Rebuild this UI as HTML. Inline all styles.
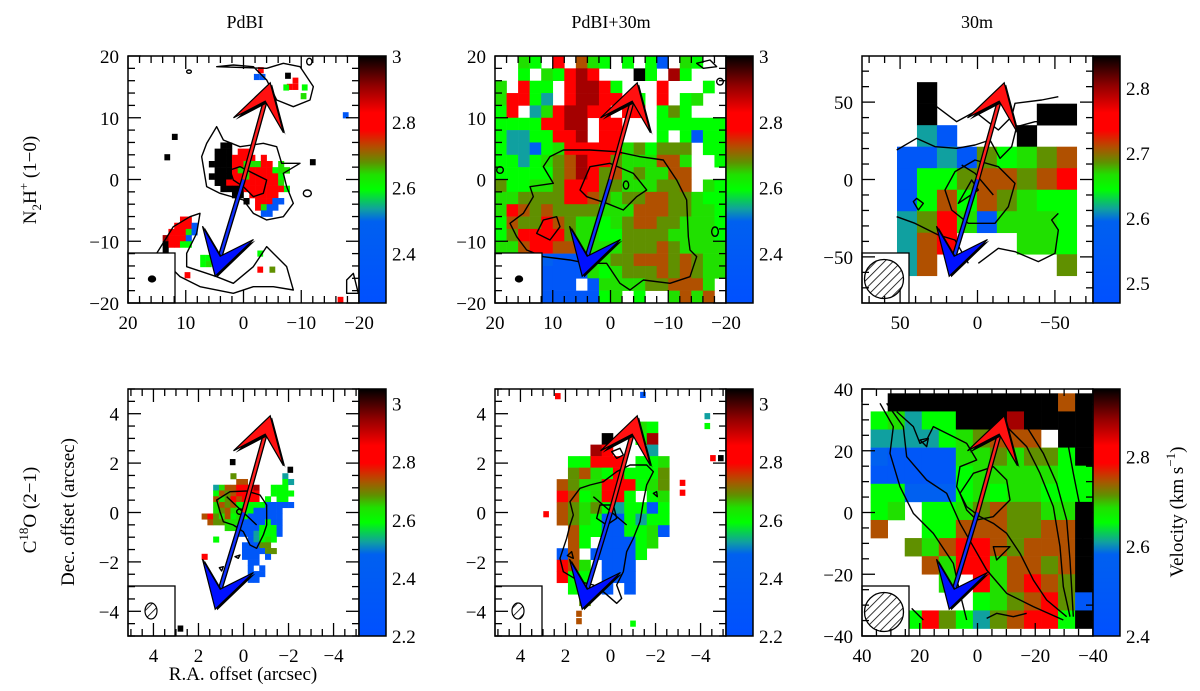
<!DOCTYPE html>
<html><head><meta charset="utf-8"><style>
html,body{margin:0;padding:0;background:#fff;}
svg{display:block;font-family:"Liberation Serif",serif;}
</style></head><body>
<svg id="fig" width="1200" height="691" viewBox="0 0 1200 691" xmlns="http://www.w3.org/2000/svg">
<defs>
<linearGradient id="cmap" x1="0" y1="1" x2="0" y2="0">
<stop offset="0" stop-color="#0050ff"/><stop offset="0.33" stop-color="#0060f0"/><stop offset="0.38" stop-color="#10a0a0"/><stop offset="0.46" stop-color="#00ff00"/><stop offset="0.52" stop-color="#20e000"/><stop offset="0.57" stop-color="#609000"/><stop offset="0.63" stop-color="#b05000"/><stop offset="0.70" stop-color="#ff0000"/><stop offset="0.77" stop-color="#ff0000"/><stop offset="0.88" stop-color="#900000"/><stop offset="1" stop-color="#000000"/>
</linearGradient>
<pattern id="hatch" width="6" height="6" patternUnits="userSpaceOnUse" patternTransform="rotate(45)"><rect width="6" height="6" fill="#fff"/><line x1="0" y1="0" x2="0" y2="6" stroke="#000" stroke-width="1.6"/></pattern>
</defs>
<text x="245" y="28" font-size="18" text-anchor="middle">PdBI</text>
<text x="611" y="28" font-size="18" text-anchor="middle">PdBI+30m</text>
<text x="977" y="28" font-size="18" text-anchor="middle">30m</text>
<text transform="translate(36,180) rotate(-90)" font-size="19" text-anchor="middle">N<tspan font-size="13" dy="5">2</tspan><tspan dy="-5">H</tspan><tspan font-size="13" dy="-8">+</tspan><tspan dy="8"> (1−0)</tspan></text>
<text transform="translate(36,510) rotate(-90)" font-size="19" text-anchor="middle">C<tspan font-size="13" dy="-8">18</tspan><tspan dy="8">O (2−1)</tspan></text>
<text transform="translate(74,512) rotate(-90)" font-size="19" text-anchor="middle">Dec. offset (arcsec)</text>
<text x="243" y="680" font-size="19" text-anchor="middle">R.A. offset (arcsec)</text>
<text transform="translate(1183,512) rotate(-90)" font-size="19" text-anchor="middle">Velocity (km s<tspan font-size="13" dy="-8">−1</tspan><tspan dy="8">)</tspan></text>
</svg>
<script>
// ---- data: velocity level codes (0=blue ... 9=black), '.' = no emission ----
const lvlFrac = [0.15,0.32,0.38,0.46,0.52,0.57,0.63,0.73,0.86,1.0];
const p1Core = ["..99..........",".999.77.......",".9997777.7....","99997744477.4.",".9997447777344","9999774777773.",".997777777774.","..999977777773","....99.77777..","......9.77700.","........7400..",".........00..."];
const p1SE = ["...77.","..7770",".77740","87770.","97733.","9....."];
const p1Pts = [[11.9,6.9,9],[13.2,3.6,9],[-12,2.8,9],[-17.7,10.4,0],[-16.8,-19.5,7],[7,-12.7,3],[6,-12.7,3],[7,-13.7,3],[6,-13.7,4],[9.7,-15.5,7],[-2.9,-12,3],[-2.9,-14.6,7],[-5,-14.6,5],[-2.3,16.6,0],[-3.3,16.6,0],[-3,17.7,7],[-7.7,16.8,9],[-9,16,7],[-8,15,7],[-9,15,7],[-10.6,14.9,3],[-7.4,14.9,3],[-10.4,13.5,4]];
const p2Grid = ["..43.7.643.3.30.43..","..3.43787...93.83...","4.733.78873...7...3.","47732.78877.3.7.34..","37.2478877.77.353...","33337788.77...333333","32233778.77...3.3033","32213477777453555.33","33234568775444664..3","33333568756454466...","53344577755444556.43","44555577654556655433","47656555544466655443","36557654434566554443","35777754433555544443","44677664444555654444","44541000345566656544","44500000434555656544","5402000.04444556664.","44.00000034.3..4646."];
const p3Grid = [".9.......",".9.....99",".20...9..","002053456","033566567","036365433","257404443","267...443","26......5"];
const p4Grid = [".....5........2.","......66......32","..24667778..333.","..36567777..3333","..64576777.3.33.","..46563333300000","..456443300000..","67546343000000..",".6554440000300..","....4400003330..","......00023330..","..3.....02343...",".......00055....",".......000055...","7......000.0....","........00......","........0.0.....","........000.....","........00......"];
const p4Pts = [[0.48,2.04,9],[-2.08,1.73,9],[2.8,-4.7,9]];
const p5Grid = [".......43.","....9..38.","...87...2.",".33777.334",".564373335","6544777345","7634773.34","6545323303","6543003233",".633003340",".63.00034.","06.00003..","764.000...","733.000...",".3..0.0...","..5.......",".........."];
const p5Pts = [[2.86,-0.07,7],[2.34,4.71,7],[-1.44,4.76,0],[-4.3,3.9,2],[-4.3,3.5,3],[-4.55,2.2,7],[-4.9,2.2,9],[-3.2,1.2,7],[-3.2,0.8,7],[1.4,-4.1,6],[1.4,-4.4,6],[-1.0,-4.5,3]];
const p6Grid = [".999999999969","3423399989999","2222345666.99","1000044545539","0000034444433","3311134344333","34.3345655449","6..3366655669","..54677656669","...6477466569","....4.7467659","......3456750","..37532567739"];
// ---- axes / layout ----
const svg = document.getElementById('fig');
const NS = 'http://www.w3.org/2000/svg';
const stops = [[0,[0,80,255]],[0.33,[0,96,240]],[0.38,[16,160,160]],[0.46,[0,255,0]],[0.52,[32,224,0]],[0.57,[96,144,0]],[0.63,[176,80,0]],[0.70,[255,0,0]],[0.77,[255,0,0]],[0.88,[144,0,0]],[1,[0,0,0]]];
function cmap(f){for(let i=1;i<stops.length;i++){if(f<=stops[i][0]){const a=stops[i-1],b=stops[i],t=(f-a[0])/(b[0]-a[0]);const c=a[1].map((v,k)=>Math.round(v+(b[1][k]-v)*t));return `rgb(${c[0]},${c[1]},${c[2]})`;}}return '#000';}
function mk(tag,attrs,parent){const e=document.createElementNS(NS,tag);for(const k in attrs)e.setAttribute(k,attrs[k]);(parent||svg).appendChild(e);return e;}
const panels = [
 {id:'p1',L:128,T:56,W:231,H:247,xr:[20,-20],yr:[-20,20],xmin:2,xmaj:10,xl:[20,10,0,-10,-20],yl:[20,10,0,-10,-20],cb:[2.25,3.0],cbl:[3,2.8,2.6,2.4],cbm:0.05,beam:'solid',zo:[0,0]},
 {id:'p2',L:495,T:56,W:231,H:247,xr:[20,-20],yr:[-20,20],xmin:2,xmaj:10,xl:[20,10,0,-10,-20],yl:[20,10,0,-10,-20],cb:[2.25,3.0],cbl:[3,2.8,2.6,2.4],cbm:0.05,beam:'solid',zo:[490,50]},
 {id:'p3',L:862,T:56,W:231,H:247,xr:[74.6,-74.6],yr:[-79.8,79.8],xmin:10,xmaj:50,xl:[50,0,-50],yl:[50,0,-50],cb:[2.469,2.849],cbl:[2.8,2.7,2.6,2.5],cbm:0.025,beam:'hatch',zo:[855,50]},
 {id:'p4',L:128,T:389,W:231,H:247,xr:[5.13,-5.13],yr:[-5,5],xmin:0.5,xmaj:2,xl:[4,2,0,-2,-4],yl:[4,2,0,-2,-4],cb:[2.2,3.05],cbl:[3,2.8,2.6,2.4,2.2],cbm:0.05,beam:'hatchE',zo:[120,385]},
 {id:'p5',L:495,T:389,W:231,H:247,xr:[5.13,-5.13],yr:[-5,5],xmin:0.5,xmaj:2,xl:[4,2,0,-2,-4],yl:[4,2,0,-2,-4],cb:[2.2,3.05],cbl:[3,2.8,2.6,2.4,2.2],cbm:0.05,beam:'hatchE',zo:[490,385]},
 {id:'p6',L:862,T:389,W:231,H:247,xr:[40,-40],yr:[-40,40],xmin:5,xmaj:20,xl:[40,20,0,-20,-40],yl:[40,20,0,-20,-40],cb:[2.4,2.95],cbl:[2.8,2.6,2.4],cbm:0.05,beam:'hatch',zo:[780,360]}
];
const contours = {
 p1:["M650,380 L670,420 720,440 790,430 830,440 845,490 900,490 850,520 860,560 880,610 850,650 800,660 760,640 730,600 660,580 620,560 605,470 620,430 Z","M650,200 L700,195 760,200 800,240 830,300 880,320 930,300 940,260 900,200 850,190 800,205 Z","M470,760 L520,680 570,650 600,640 590,700 560,760 560,800 620,820 650,830 700,850 760,800 800,740 830,770 860,800 880,870 820,860 760,860 700,880 600,860 540,830 Z","M690,510 L720,500 760,520 800,540 790,580 760,590 730,560 700,540 Z","M910,580 a12,10 0 1,0 24,0 a12,10 0 1,0 -24,0","M1040,840 L1060,820 1075,880 1040,880 Z","M560,215 a7,5 0 1,0 14,0 a7,5 0 1,0 -14,0","M920,185 a8,10 0 1,0 16,0 a8,10 0 1,0 -16,0"],
 p2:["M220,300 L300,300 380,305 450,320 520,330 560,390 590,450 595,560 600,600 620,620 600,680 540,700 460,690 420,720 390,700 350,640 290,640 240,630 160,620 110,600 80,560 60,520 100,490 130,440 120,410 190,400 160,350 180,320 Z","M270,420 L300,350 360,340 430,370 470,420 440,440 400,480 350,460 290,440 Z","M140,550 L160,510 200,500 210,530 180,570 Z","M20,360 a10,10 0 1,0 20,0 a10,10 0 1,0 -20,0","M400,405 a8,12 0 1,0 16,0 a8,12 0 1,0 -16,0","M620,40 L660,30 680,50 640,55 Z","M680,95 a10,10 0 1,0 20,0 a10,10 0 1,0 -20,0","M665,545 a10,14 0 1,0 20,0 a10,14 0 1,0 -20,0"],
 p3:["M125,300 L185,265 240,290 305,295 360,285 405,270 435,325 470,290 485,230 540,215 600,215","M245,170 L305,215 360,185 430,240 470,200 480,160 560,150 610,140","M270,420 L300,365 360,330 430,350 480,400 460,470 420,520 340,520 290,480 Z","M320,345 L360,370 415,435","M185,445 L205,460 190,480 175,455 Z","M125,500 L180,520 250,555 300,570 340,640","M370,640 L430,595 480,605 550,635 600,610 610,540 590,510 610,490","M310,460 L350,390 370,420 Z"],
 p4:["M290,345 L330,320 380,318 420,330 440,360 440,420 430,450 410,490 390,480 370,440 340,420 310,410 300,380 Z","M320,335 L410,420","M350,380 a10,8 0 1,0 20,0 a10,8 0 1,0 -20,0","M345,515 L360,510 355,520 Z","M298,548 L310,545 305,558 Z"],
 p5:["M250,390 L240,350 270,310 300,300 340,290 380,260 420,240 470,240 490,260 470,300 460,350 450,410 430,460 410,500 400,560 380,600 395,640 380,655 340,620 310,600 270,590 220,560 210,520 230,460 240,420 Z","M365,200 L390,190 400,210 380,220 Z","M330,360 L370,360 380,400 350,420 320,400 Z","M310,335 L410,420","M232,512 L245,500 250,520 Z","M490,325 L500,320 502,335 Z"],
 p6:["M300,130 L340,200 330,280 360,380 400,460 460,520 520,610 540,700 560,780","M320,130 L370,200 380,290 440,360 500,400 540,490 580,560 620,630 680,700 760,740 850,780","M350,155 L400,200 420,250 440,240 460,200 480,210 520,230 560,250 590,300 540,320 530,380 560,440 600,470 640,490 680,520 720,580 760,660 800,720 860,770","M540,400 L580,340 640,320 680,360 690,420 640,470 590,480 560,450 Z","M680,200 L740,260 780,340 820,440 840,560 850,680 870,770","M740,200 L790,280 830,370 860,480 870,600 880,770","M860,230 L880,340 900,440 910,560","M640,560 L690,560 650,600 Z","M420,240 L440,260 445,235 Z","M395,745 L430,780","M620,775 L650,760 700,770 740,760"]
};
const gridSets = {
 p1:[[p1Core,6,6,1,1],[p1SE,14,-6,1,1]],
 p2:[[p2Grid,20,20,2,2]],
 p3:[[p3Grid,52,62.9,12.9,13.9]],
 p4:[[p4Grid,1.86,1.59,0.256,0.233]],
 p5:[[p5Grid,2.39,3.68,0.5,0.466]],
 p6:[[p6Grid,37,38.6,5.9,5.86]]
};
const ptSets = {p1:[p1Pts,1,1],p4:[p4Pts,0.25,0.25],p5:[p5Pts,0.25,0.25]};
panels.forEach(p=>{
 const X=x=>p.L+(p.xr[0]-x)/(p.xr[0]-p.xr[1])*p.W;
 const Y=y=>p.T+(p.yr[1]-y)/(p.yr[1]-p.yr[0])*p.H;
 const g=mk('g',{});
 
 
 const cp=mk('clipPath',{id:'clip-'+p.id},g);mk('rect',{x:p.L,y:p.T,width:p.W,height:p.H},cp);
 const pg=mk('g',{'clip-path':'url(#clip-'+p.id+')'},g);
 
 
 (gridSets[p.id]||[]).forEach(([rows,x0,y0,dx,dy])=>{
  rows.forEach((s,r)=>{for(let c=0;c<s.length;c++){const ch=s[c];if(ch<'0'||ch>'9')continue;
   const xa=X(x0-c*dx),xb=X(x0-(c+1)*dx),ya=Y(y0-r*dy),yb=Y(y0-(r+1)*dy);
   const e=mk('rect',{x:xa.toFixed(2),y:ya.toFixed(2),width:(xb-xa+0.3).toFixed(2),height:(yb-ya+0.3).toFixed(2),fill:cmap(lvlFrac[+ch])},pg);
   
   }});
 });
 if(ptSets[p.id]){const [pts,sx,sy]=ptSets[p.id];pts.forEach(([x,y,l])=>{const xa=X(x+sx/2),xb=X(x-sx/2),ya=Y(y+sy/2),yb=Y(y-sy/2);
   const e=mk('rect',{x:xa,y:ya,width:xb-xa,height:yb-ya,fill:cmap(lvlFrac[l])},pg);
   
   });}
 const cg=mk('g',{transform:`translate(${p.zo[0]},${p.zo[1]}) scale(0.33333)`,fill:'none',stroke:'#000','stroke-width':'4.2','stroke-linejoin':'round'},pg);
 
 
 contours[p.id].forEach(d=>mk('path',{d:d},cg));
 const cx=X(0),cy=Y(0);
 const ag=mk('g',{},pg);
 
 
 const pts=a=>a.map(q=>(cx+q[0]).toFixed(1)+','+(cy+q[1]).toFixed(1)).join(' ');
 mk('line',{x1:cx,y1:cy,x2:cx+21.7,y2:cy-78.3,stroke:'#000','stroke-width':5},ag);
 mk('line',{x1:cx,y1:cy,x2:cx-23.3,y2:cy+76.7,stroke:'#000','stroke-width':5},ag);
 mk('line',{x1:cx,y1:cy,x2:cx+21.7,y2:cy-78.3,stroke:'#ff2020','stroke-width':2.4},ag);
 mk('line',{x1:cx,y1:cy,x2:cx-23.3,y2:cy+76.7,stroke:'#1030ff','stroke-width':2.4},ag);
 const red=[[26.7,-96.7],[-10,-61.7],[21.7,-78.3],[40,-46.7]];
 const blu=[[-28.3,96.7],[-41,46.7],[-23.3,76.7],[10,60]];
 mk('polygon',{points:pts(red.map(q=>[q[0]+2,q[1]+2])),fill:'#000'},ag);
 mk('polygon',{points:pts(red),fill:'#ff1010',stroke:'#000','stroke-width':1.2},ag);
 mk('polygon',{points:pts(blu.map(q=>[q[0]+2,q[1]+1])),fill:'#000'},ag);
 mk('polygon',{points:pts(blu),fill:'#0010ff',stroke:'#000','stroke-width':1.2},ag);
 const bw=47,bh=50;
 const bx=mk('rect',{x:p.L,y:p.T+p.H-bh,width:bw,height:bh,fill:'#fff',stroke:'#000','stroke-width':1.3},g);
 
 
 let be;
 if(p.beam==='solid') be=mk('ellipse',{cx:p.L+24,cy:p.T+p.H-24,rx:4.2,ry:3.6,fill:'#000'},g);
 else if(p.beam==='hatch') be=mk('circle',{cx:p.L+22,cy:p.T+p.H-24,r:19.5,fill:'url(#hatch)',stroke:'#000','stroke-width':1.3},g);
 else be=mk('ellipse',{cx:p.L+23,cy:p.T+p.H-25,rx:6,ry:8,fill:'url(#hatch)',stroke:'#000','stroke-width':1.2},g);
 
 
 const fr=mk('rect',{x:p.L,y:p.T,width:p.W,height:p.H,fill:'none',stroke:'#000','stroke-width':1.5},g);
 
 
 const tg=mk('g',{stroke:'#000','stroke-width':1.3},g);
 
 
 const isMaj=(v,m)=>Math.abs(v/m-Math.round(v/m))<1e-6;
 const xs=Math.ceil(Math.min(...p.xr)/p.xmin)*p.xmin;
 for(let v=xs;v<=Math.max(...p.xr)+1e-9;v+=p.xmin){const x=X(v),L=isMaj(v,p.xmaj)?13:7;
  mk('line',{x1:x,y1:p.T+p.H,x2:x,y2:p.T+p.H-L},tg);mk('line',{x1:x,y1:p.T,x2:x,y2:p.T+L},tg);}
 const ys=Math.ceil(p.yr[0]/p.xmin)*p.xmin;
 for(let v=ys;v<=p.yr[1]+1e-9;v+=p.xmin){const y=Y(v),L=isMaj(v,p.xmaj)?13:7;
  mk('line',{x1:p.L,y1:y,x2:p.L+L,y2:y},tg);mk('line',{x1:p.L+p.W,y1:y,x2:p.L+p.W-L,y2:y},tg);}
 p.xl.forEach(v=>{const t=mk('text',{x:X(v),y:p.T+p.H+26,'font-size':19,'text-anchor':'middle'},g);t.textContent=(v<0?'−':'')+Math.abs(v);
  
  });
 p.yl.forEach(v=>{const t=mk('text',{x:p.L-9,y:Y(v)+7,'font-size':19,'text-anchor':'end'},g);t.textContent=(v<0?'−':'')+Math.abs(v);
  
  });
 const cbx=p.L+p.W,cbw=27;
 const CY=v=>p.T+(p.cb[1]-v)/(p.cb[1]-p.cb[0])*p.H;
 const cb=mk('rect',{x:cbx,y:p.T,width:cbw,height:p.H,fill:'url(#cmap)',stroke:'#000','stroke-width':1.5},g);
 
 
 for(let v=Math.ceil(p.cb[0]/p.cbm)*p.cbm;v<p.cb[1];v+=p.cbm){const y=CY(v);if(y<p.T+2||y>p.T+p.H-2)continue;mk('line',{x1:cbx+cbw,y1:y,x2:cbx+cbw-7,y2:y},tg);}
 p.cbl.forEach(v=>{const t=mk('text',{x:cbx+cbw+6,y:CY(v)+7,'font-size':19},g);t.textContent=String(v);
  
  });
});
</script>
</body></html>
